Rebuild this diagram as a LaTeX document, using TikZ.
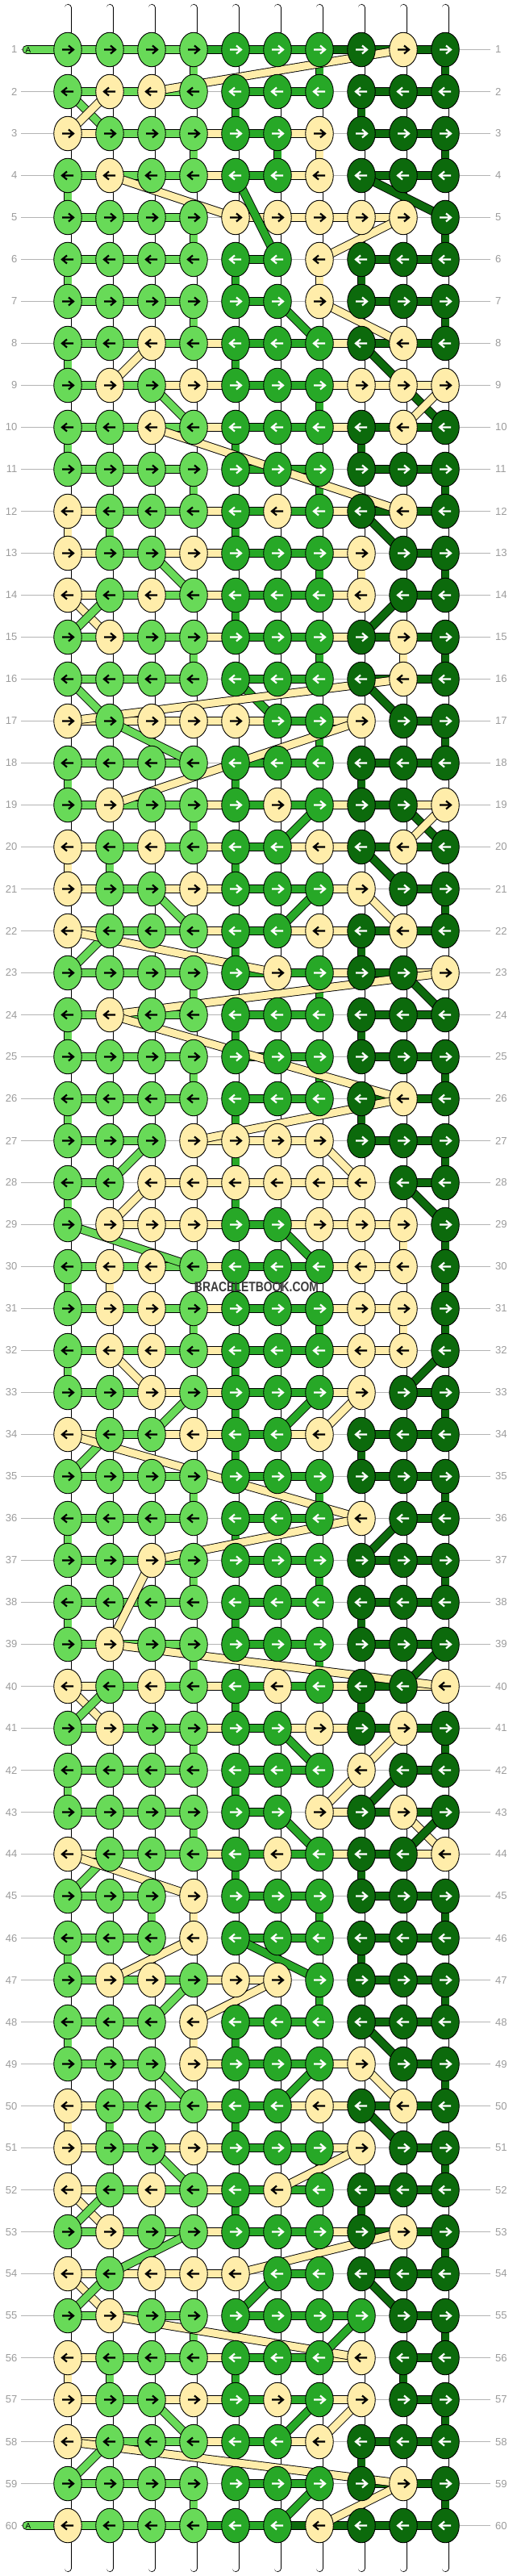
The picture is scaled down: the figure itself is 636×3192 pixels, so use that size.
\documentclass[tikz,border=0pt]{standalone}
\usepackage{fontspec}
\setmainfont{Liberation Sans}
\usetikzlibrary{shapes.geometric}
\definecolor{cL}{HTML}{68DA58}
\definecolor{cM}{HTML}{27A827}
\definecolor{cD}{HTML}{0C6A0C}
\definecolor{cY}{HTML}{FFEDAA}
\colorlet{aL}{black}\colorlet{aY}{black}\colorlet{aM}{white}\colorlet{aD}{white}
\definecolor{lblgray}{HTML}{9C9C9C}
\definecolor{linegray}{HTML}{B4B4B4}
\definecolor{wmgray}{HTML}{3C3C3C}
\pgfdeclarelayer{strings}
\pgfdeclarelayer{conns}
\pgfsetlayers{strings,conns,main}
\begin{document}
\begin{tikzpicture}[x=1pt,y=-1pt,
  knot/.style={ellipse,draw=black,line width=0.9pt,minimum width=34.5pt,minimum height=42.5pt,inner sep=0pt},
  arr/.style={line width=2.2pt,miter limit=4},
  conn/.style={draw=black,line width=0.9pt,double=#1,double distance=9pt},
  wstring/.style={draw=black,line width=0.8pt,double=white,double distance=7.4pt,line cap=round},
  rowline/.style={draw=linegray,line width=1pt},
  lbl/.style={text=lblgray,font=\fontsize{13}{13}\selectfont,inner sep=0pt}]
\useasboundingbox (0,0) rectangle (636,3192);
% ---------- knots ----------
\foreach \ri/\row in {
1/{L,L,L,L,M,M,M,D,Y,D},
2/{L,Y,Y,L,M,M,M,D,D,D},
3/{Y,L,L,L,M,M,Y,D,D,D},
4/{L,Y,L,L,M,M,Y,D,D,D},
5/{L,L,L,L,Y,Y,Y,Y,Y,D},
6/{L,L,L,L,M,M,Y,D,D,D},
7/{L,L,L,L,M,M,Y,D,D,D},
8/{L,L,Y,L,M,M,M,D,Y,D},
9/{L,Y,L,Y,M,M,M,Y,Y,Y},
10/{L,L,Y,L,M,M,M,D,Y,D},
11/{L,L,L,L,M,M,M,D,D,D},
12/{Y,L,L,L,M,Y,M,D,Y,D},
13/{Y,L,L,Y,M,M,M,Y,D,D},
14/{Y,L,Y,L,M,M,M,Y,D,D},
15/{L,Y,L,L,M,M,M,D,Y,D},
16/{L,L,L,L,M,M,M,D,Y,D},
17/{Y,L,Y,Y,Y,M,M,Y,D,D},
18/{L,L,L,L,M,M,M,D,D,D},
19/{L,Y,L,L,M,Y,M,D,D,Y},
20/{Y,L,Y,L,M,M,Y,D,Y,D},
21/{Y,L,L,Y,M,M,M,Y,D,D},
22/{Y,L,L,L,M,M,Y,D,Y,D},
23/{L,L,L,L,M,Y,M,D,D,Y},
24/{L,Y,L,L,M,M,M,D,D,D},
25/{L,L,L,L,M,M,M,D,D,D},
26/{L,L,L,L,M,M,M,D,Y,D},
27/{L,L,L,Y,Y,Y,Y,D,D,D},
28/{L,L,Y,Y,Y,Y,Y,Y,D,D},
29/{L,Y,Y,Y,M,M,Y,Y,Y,D},
30/{L,Y,Y,L,M,M,M,Y,Y,D},
31/{L,Y,Y,L,M,M,M,Y,Y,D},
32/{L,Y,Y,L,M,M,M,Y,Y,D},
33/{L,L,Y,L,M,M,M,Y,D,D},
34/{Y,L,L,Y,M,M,Y,D,D,D},
35/{L,L,L,L,M,M,M,D,D,D},
36/{L,L,L,L,M,M,M,Y,D,D},
37/{L,L,Y,L,M,M,M,D,D,D},
38/{L,L,L,L,M,M,M,D,D,D},
39/{L,Y,L,L,M,M,M,D,D,D},
40/{Y,L,Y,L,M,Y,M,D,D,Y},
41/{L,Y,L,L,M,M,Y,D,Y,D},
42/{L,L,L,L,M,M,M,Y,D,D},
43/{L,L,L,L,M,M,Y,D,Y,D},
44/{Y,L,L,L,M,Y,M,D,D,Y},
45/{L,L,L,Y,M,M,M,D,D,D},
46/{L,L,L,Y,M,M,M,D,D,D},
47/{L,Y,Y,L,Y,Y,M,D,D,D},
48/{L,L,L,Y,M,M,M,D,D,D},
49/{L,L,L,Y,M,M,M,Y,D,D},
50/{Y,L,L,L,M,M,Y,D,Y,D},
51/{Y,L,L,Y,M,M,M,Y,D,D},
52/{Y,L,Y,L,M,Y,M,D,D,D},
53/{L,Y,L,L,M,M,M,D,Y,D},
54/{Y,L,Y,Y,Y,M,M,D,D,D},
55/{L,Y,L,L,M,M,M,M,D,D},
56/{Y,L,L,L,M,M,M,Y,D,D},
57/{Y,L,L,Y,M,Y,M,Y,D,D},
58/{Y,L,L,L,M,M,Y,D,D,D},
59/{L,L,L,L,M,M,M,D,Y,D},
60/{Y,L,L,L,M,M,Y,D,D,D}}{
  \pgfmathsetmacro\yy{61.5+52*(\ri-1)}
  \pgfmathsetmacro\dd{1-2*mod(\ri+1,2)}
  \foreach \kc [count=\ci] in \row {
    \pgfmathsetmacro\xx{84+52*(\ci-1)}
    \node[knot,fill=c\kc] (k-\ri-\ci) at (\xx,\yy) {};
    \draw[arr,draw=a\kc,shift={(\xx,\yy)},xscale=\dd] (-7,0)--(6,0) (1,-5)--(7,0)--(1,5);
  }
}
% ---------- starters ----------
\node[font=\fontsize{10}{10}\selectfont,inner sep=0pt] (tA1) at (35,62) {A};
\node[font=\fontsize{10}{10}\selectfont,inner sep=0pt] (tA60) at (35,3130) {A};
\node[font=\bfseries\fontsize{17}{17}\selectfont,text=wmgray,xscale=0.82,transform shape,inner sep=0pt] (wm) at (318,1595) {BRACELETBOOK.COM};
% ---------- background: strings, row lines, labels ----------
\begin{pgfonlayer}{strings}
\fill[white] (0,0) rectangle (636,3192);
\foreach \ci in {1,...,10}{
  \pgfmathsetmacro\xx{84+52*(\ci-1)}
  \coordinate (st-\ci) at (\xx,9.5);
  \coordinate (sb-\ci) at (\xx,3182.5);
  \draw[wstring] (st-\ci) -- (sb-\ci);
}
\foreach \ri in {1,...,60}{
  \pgfmathsetmacro\yy{61.5+52*(\ri-1)}
  \node[lbl,anchor=east] (ll-\ri) at (21.5,\yy) {\ri};
  \node[lbl,anchor=west] (lr-\ri) at (614,\yy) {\ri};
  \draw[rowline,shorten <=4.5pt,shorten >=6pt] (ll-\ri.east) -- (lr-\ri.west);
}
\end{pgfonlayer}
% ---------- connectors ----------
\begin{pgfonlayer}{conns}
\coordinate (a-1) at (33,61.5);
\coordinate (a-60) at (33,3129.5);
\draw[conn=cL,line cap=round] (a-1) -- (k-1-1.center);
\draw[conn=cL,line cap=round] (a-60) -- (k-60-1.center);
% vertical
\foreach \ri/\row in {
1/{-,-,-,L,-,-,M,-,-,D},
2/{-,-,-,-,M,-,-,D,-,-},
3/{-,-,-,L,-,M,Y,-,-,D},
4/{L,-,-,-,-,-,-,-,-,-},
5/{-,-,-,L,-,-,-,-,-,D},
6/{L,-,-,-,M,-,Y,D,-,-},
7/{-,-,-,L,-,-,-,-,-,D},
8/{L,-,-,-,M,-,-,-,-,-},
9/{-,-,-,-,-,-,M,-,-,-},
10/{L,-,-,-,M,-,-,D,-,-},
11/{-,-,-,L,-,-,M,-,-,D},
12/{Y,L,-,-,M,-,-,-,-,-},
13/{-,-,-,-,-,-,M,Y,-,D},
14/{-,-,-,-,M,-,-,-,-,-},
15/{-,-,-,L,-,-,M,-,Y,D},
17/{-,-,-,-,-,-,M,-,-,D},
18/{L,-,-,-,M,-,-,D,-,-},
19/{-,-,-,L,-,-,-,-,-,-},
20/{Y,L,-,-,M,-,-,-,-,-},
21/{-,-,-,-,-,-,-,-,-,D},
22/{-,-,-,-,M,-,-,D,-,-},
23/{-,-,-,L,-,-,M,-,-,-},
24/{L,-,-,-,M,-,-,D,-,-},
25/{-,-,-,L,-,-,M,-,-,D},
26/{L,-,-,-,M,-,-,D,-,-},
27/{-,-,-,-,M,-,-,-,-,D},
28/{L,-,-,-,M,-,-,-,-,-},
29/{-,-,-,-,-,-,-,-,Y,D},
30/{L,Y,-,-,M,-,-,-,-,D},
31/{-,-,-,L,-,-,M,-,Y,D},
32/{L,-,-,-,M,-,-,-,-,-},
33/{-,-,-,-,M,-,-,-,-,D},
34/{-,-,-,-,M,-,-,D,-,-},
35/{-,-,-,L,-,-,M,-,-,D},
36/{L,-,-,-,M,-,-,-,-,-},
37/{-,-,-,L,-,-,M,-,-,D},
38/{L,-,-,-,M,-,-,D,-,-},
39/{-,-,-,L,-,-,M,-,-,-},
40/{-,-,-,-,M,-,-,D,-,-},
41/{-,-,-,L,-,-,-,-,-,D},
42/{L,-,-,-,M,-,-,-,-,-},
43/{-,-,-,L,-,-,-,-,-,-},
44/{-,-,-,-,M,-,-,D,-,-},
45/{-,-,L,Y,-,-,M,-,-,D},
46/{L,-,-,-,-,-,-,D,-,-},
47/{-,-,-,-,-,-,M,-,-,D},
48/{L,-,-,Y,M,-,-,-,-,-},
49/{-,-,-,-,-,-,-,-,-,D},
50/{Y,L,-,-,M,-,-,-,-,-},
51/{-,-,-,-,-,-,M,-,-,D},
52/{-,-,-,-,M,-,-,D,-,-},
53/{-,-,-,-,-,-,M,-,-,D},
55/{-,-,-,L,-,-,-,-,-,D},
56/{Y,L,-,-,M,-,-,-,D,-},
57/{-,-,-,-,-,-,-,-,-,D},
58/{-,-,-,-,M,-,-,D,-,-},
59/{-,-,-,L,-,-,-,-,-,D}}{
  \pgfmathtruncatemacro\rn{\ri+1}
  \foreach \vc [count=\ci] in \row {\if\vc-\else\draw[conn=c\vc] (k-\ri-\ci.center) -- (k-\rn-\ci.center);\fi}
}
% horizontal
\foreach \ri/\row in {
1/{L,L,L,M,M,M,D,D,D},
2/{L,L,L,-,M,M,-,D,D},
3/{Y,L,L,Y,M,Y,-,D,D},
4/{L,L,L,Y,M,Y,-,D,D},
5/{L,L,L,-,Y,Y,Y,Y,-},
6/{L,L,L,-,M,-,-,D,D},
7/{L,L,L,-,M,-,-,D,D},
8/{L,L,L,Y,M,M,Y,D,D},
9/{L,L,Y,Y,M,M,Y,Y,Y},
10/{L,L,L,Y,M,M,Y,D,D},
11/{L,L,L,-,M,M,-,D,D},
12/{Y,L,L,Y,M,M,Y,D,D},
13/{Y,L,Y,Y,M,M,Y,-,D},
14/{Y,L,L,Y,M,M,Y,-,D},
15/{L,L,L,Y,M,M,Y,D,D},
16/{L,L,L,-,M,M,-,D,D},
17/{Y,Y,Y,Y,Y,M,Y,-,D},
18/{L,L,L,-,M,M,-,D,D},
19/{L,L,L,Y,M,M,Y,D,Y},
20/{Y,L,L,Y,M,Y,Y,D,D},
21/{Y,L,Y,Y,M,M,Y,-,D},
22/{Y,L,L,Y,M,Y,Y,D,D},
23/{L,L,L,-,M,M,Y,D,Y},
24/{L,L,L,-,M,M,-,D,D},
25/{L,L,L,-,M,M,-,D,D},
26/{L,L,L,-,M,M,-,D,D},
27/{L,L,-,Y,Y,Y,-,D,D},
28/{L,-,Y,Y,Y,Y,Y,-,D},
29/{-,Y,Y,Y,M,Y,Y,Y,-},
30/{L,L,L,Y,M,M,Y,Y,-},
31/{L,L,L,Y,M,M,Y,Y,-},
32/{L,L,L,Y,M,M,Y,Y,-},
33/{L,L,Y,Y,M,M,Y,-,D},
34/{Y,L,Y,Y,M,Y,-,D,D},
35/{L,L,L,-,M,M,-,D,D},
36/{L,L,L,-,M,M,-,-,D},
37/{L,L,L,-,M,M,-,D,D},
38/{L,L,L,-,M,M,-,D,D},
39/{L,L,L,-,M,M,-,D,D},
40/{Y,L,L,Y,M,M,Y,D,Y},
41/{L,L,L,Y,M,Y,Y,D,D},
42/{L,L,L,-,M,M,-,-,D},
43/{L,L,L,-,M,-,Y,D,D},
44/{Y,L,L,Y,M,M,Y,D,Y},
45/{L,L,-,-,M,M,-,D,D},
46/{L,L,-,-,M,M,-,D,D},
47/{L,L,L,Y,Y,-,-,D,D},
48/{L,L,-,-,M,M,-,D,D},
49/{L,L,-,Y,M,M,Y,-,D},
50/{Y,L,L,Y,M,Y,Y,D,D},
51/{Y,L,Y,Y,M,M,Y,-,D},
52/{Y,L,L,Y,M,M,-,D,D},
53/{L,L,L,Y,M,M,Y,D,D},
54/{Y,Y,Y,Y,-,M,-,D,D},
55/{L,L,L,-,M,M,M,-,D},
56/{Y,L,L,Y,M,M,Y,-,D},
57/{Y,L,Y,Y,M,M,Y,-,D},
58/{Y,L,L,Y,M,Y,-,D,D},
59/{L,L,L,-,M,M,-,D,D},
60/{L,L,L,M,M,D,D,D,D}}{
  \foreach \hc [count=\ci] in \row {\if\hc-\else\pgfmathtruncatemacro\cn{\ci+1}\draw[conn=c\hc] (k-\ri-\ci.center) -- (k-\ri-\cn.center);\fi}
}
% diagonal
\foreach \ra/\ca/\rb/\cb/\cc in {
1/9/2/3/Y, 2/1/3/2/L, 2/2/3/1/Y, 4/2/5/5/Y, 4/5/6/6/M, 4/8/5/10/D, 5/9/6/7/Y,
7/6/8/7/M, 7/7/8/9/Y, 8/3/9/2/Y, 8/8/10/10/D, 9/3/10/4/L, 9/10/10/9/Y,
10/3/12/9/Y, 12/8/13/9/D, 13/3/14/4/L, 14/1/15/2/Y, 14/2/15/1/L, 14/9/15/8/D,
16/1/17/2/L, 16/5/17/6/M, 16/8/17/9/D, 16/9/17/1/Y, 17/2/18/4/L, 17/8/19/2/Y,
19/7/20/6/M, 19/9/20/10/D, 19/10/20/9/Y, 20/8/21/9/D, 21/3/22/4/L, 21/7/22/6/M,
21/8/22/9/Y, 22/2/23/1/L, 22/1/23/6/Y, 23/10/24/2/Y, 23/9/24/10/D, 24/2/26/9/Y,
26/9/27/4/Y, 27/3/28/2/L, 27/7/28/8/Y, 28/3/29/2/Y, 28/9/29/10/D, 29/1/30/4/L,
29/6/30/7/M, 32/2/33/3/Y, 32/10/33/9/D, 33/4/34/3/L, 33/7/34/6/M, 33/8/34/7/Y,
34/2/35/1/L, 34/1/36/8/Y, 36/8/37/3/Y, 36/9/37/8/D, 37/3/39/2/Y, 39/2/40/10/Y,
39/10/40/9/D, 40/1/41/2/Y, 40/2/41/1/L, 41/6/42/7/M, 41/9/42/8/Y, 42/8/43/7/Y,
42/9/43/8/D, 43/6/44/7/M, 43/9/44/10/Y, 43/10/44/9/D, 44/2/45/1/L, 44/1/45/4/Y,
46/4/47/2/Y, 46/5/47/7/M, 47/4/48/3/L, 47/6/48/4/Y, 48/8/49/9/D, 49/3/50/4/L,
49/7/50/6/M, 49/8/50/9/Y, 50/8/51/9/D, 51/3/52/4/L, 51/8/52/6/Y, 52/1/53/2/Y,
52/2/53/1/L, 53/4/54/2/L, 53/9/54/5/Y, 54/1/55/2/Y, 54/2/55/1/L, 54/6/55/5/M,
54/8/55/9/D, 55/2/56/8/Y, 55/8/56/7/M, 57/3/58/4/L, 57/7/58/6/M, 57/8/58/7/Y,
58/2/59/1/L, 58/1/59/9/Y, 59/7/60/6/M, 59/9/60/7/Y}{
  \draw[conn=c\cc] (k-\ra-\ca.center) -- (k-\rb-\cb.center);
}
\end{pgfonlayer}
\end{tikzpicture}
\end{document}
